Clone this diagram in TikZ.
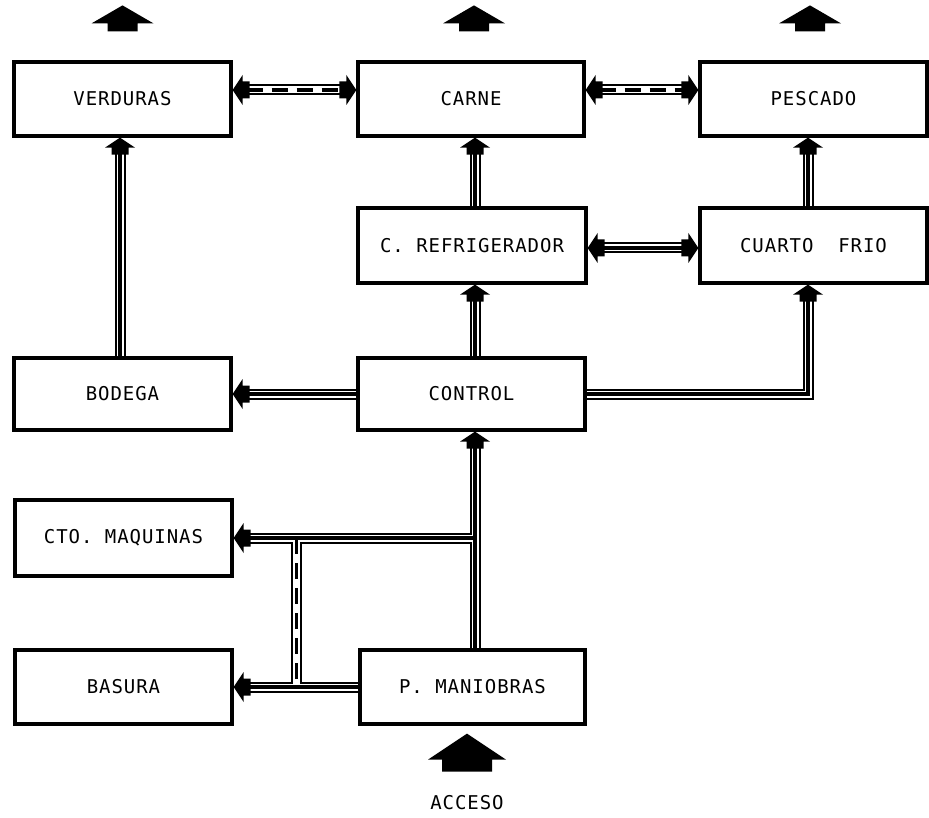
\documentclass[tikz,border=0pt]{standalone}
\usepackage{fontspec}
\newfontfamily\labfont[LetterSpace=5]{DejaVu Sans Mono}
\usetikzlibrary{calc}
\newcommand\solidpipes[1]{%
  \draw[#1] ($(cref.north)+(3,0)$) -- ($(carne.south)+(4,14)$);
  \draw[#1] ($(cfrio.north)+(-5.5,0)$) -- ($(pesc.south)+(-5.5,14)$);
  \draw[#1] ($(ctrl.north)+(3.5,0)$) -- ($(cref.south)+(3,14)$);
  \draw[#1] (ctrl.east) -| ($(cfrio.south)+(-5.5,14)$);
  \draw[#1] (ctrl.west) -- ($(bod.east)+(14,0)$);
  \draw[#1] ($(bod.north)+(-2.5,0)$) -- ($(verd.south)+(-2.5,14)$);
  \draw[#1] (jn) -- ($(ctrl.south)+(3.5,14)$);
  \draw[#1] (jn |- cto.east) -- ($(cto.east)+(14,0)$);
  \draw[#1] (pman.west) -- ($(bas.east)+(14,0)$);
  \draw[#1] ($(cref.east)+(14,2.5)$) -- ($(cfrio.west)+(-14,2.5)$);
}
\newcommand\dashpipes[1]{%
  \draw[#1] ($(verd.east)+(14,-9)$) -- ($(carne.west)+(-14,-9)$);
  \draw[#1] ($(carne.east)+(14,-9)$) -- ($(pesc.west)+(-14,-9)$);
  \draw[#1] (jb |- cto.east) -- (jb |- bas.east);
}
\begin{document}
\begin{tikzpicture}[x=1pt,y=-1pt,
  box/.style={draw, line width=3.2pt, inner sep=0pt,
    font=\labfont\fontsize{19}{22}\selectfont},
  lbl/.style={font=\labfont\fontsize{19}{22}\selectfont, inner sep=0pt},
  outerp/.style={line width=11pt, black, line join=miter},
  innerp/.style={line width=7pt, white, line join=miter},
  corep/.style={line width=3.4pt, black, line join=miter},
  dashp/.style={line width=3.4pt, black, dash pattern=on 16pt off 9pt},
  hd/.pic={\fill (0,0) -- (15,10) -- (8.5,10) -- (8.5,17) -- (-8.5,17) -- (-8.5,10) -- (-15,10) -- cycle;},
  bh/.pic={\fill (0,0) -- (31,18) -- (15,18) -- (15,26) -- (-15,26) -- (-15,18) -- (-31,18) -- cycle;},
  bhl/.pic={\fill (0,0) -- (39,26) -- (25,26) -- (25,38) -- (-25,38) -- (-25,26) -- (-39,26) -- cycle;}
]
\useasboundingbox (0,0) rectangle (929,818);
\fill[white] (0,0) rectangle (929,818);

\node[box, minimum width=217pt, minimum height=74pt] (verd) at (122.5,99) {\raisebox{-5pt}{VERDURAS}};
\node[box, minimum width=226pt, minimum height=74pt] (carne) at (471,99) {\raisebox{-5pt}{CARNE}};
\node[box, minimum width=227pt, minimum height=74pt] (pesc) at (813.5,99) {\raisebox{-5pt}{PESCADO}};
\node[box, minimum width=228pt, minimum height=75pt] (cref) at (472,245.5) {\raisebox{-3pt}{C. REFRIGERADOR}};
\node[box, minimum width=227pt, minimum height=75pt] (cfrio) at (813.5,245.5) {\raisebox{-3pt}{CUARTO~~FRIO}};
\node[box, minimum width=217pt, minimum height=72pt] (bod) at (122.5,394) {\raisebox{-3pt}{BODEGA}};
\node[box, minimum width=227pt, minimum height=72pt] (ctrl) at (471.5,394) {\raisebox{-3pt}{CONTROL}};
\node[box, minimum width=217pt, minimum height=76pt] (cto) at (123.5,538) {\raisebox{-3pt}{CTO. MAQUINAS}};
\node[box, minimum width=217pt, minimum height=74pt] (bas) at (123.5,687) {\raisebox{-3pt}{BASURA}};
\node[box, minimum width=225pt, minimum height=74pt] (pman) at (472.5,687) {\raisebox{-3pt}{P. MANIOBRAS}};
\node[lbl] (acc) at (467,803) {ACCESO};

\coordinate (jn) at ($(pman.north)+(2.5,0)$);
\coordinate (jb) at ($(cto.east)+(63,0)$);

\solidpipes{outerp}
\dashpipes{outerp}
\solidpipes{innerp}
\dashpipes{innerp}
\solidpipes{corep}
\dashpipes{dashp}

\pic[rotate=90] at ($(verd.east)+(0,-9)$) {hd};
\pic[rotate=-90] at ($(carne.west)+(0,-9)$) {hd};
\pic[rotate=90] at ($(carne.east)+(0,-9)$) {hd};
\pic[rotate=-90] at ($(pesc.west)+(0,-9)$) {hd};
\pic at ($(carne.south)+(4,0)$) {hd};
\pic at ($(pesc.south)+(-5.5,0)$) {hd};
\pic[rotate=90] at ($(cref.east)+(0,2.5)$) {hd};
\pic[rotate=-90] at ($(cfrio.west)+(0,2.5)$) {hd};
\pic at ($(cref.south)+(3,0)$) {hd};
\pic at ($(cfrio.south)+(-5.5,0)$) {hd};
\pic[rotate=90] at (bod.east) {hd};
\pic at ($(verd.south)+(-2.5,0)$) {hd};
\pic at ($(ctrl.south)+(3.5,0)$) {hd};
\pic[rotate=90] at (cto.east) {hd};
\pic[rotate=90] at (bas.east) {hd};

\pic at ($(verd.north)+(0,-55)$) {bh};
\pic at ($(carne.north)+(3,-55)$) {bh};
\pic at ($(pesc.north)+(-3.5,-55)$) {bh};
\pic at ($(pman.south)+(-5.5,8)$) {bhl};
\end{tikzpicture}
\end{document}
